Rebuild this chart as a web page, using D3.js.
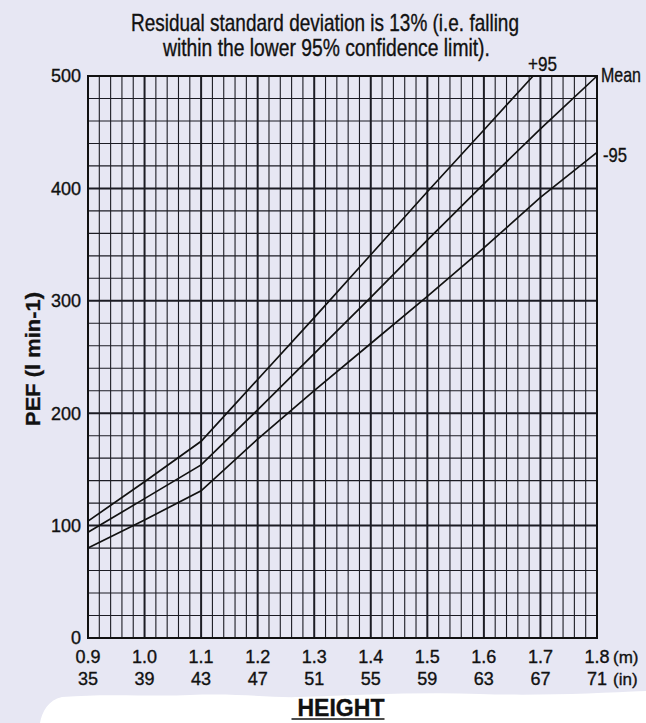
<!DOCTYPE html>
<html lang="en">
<head>
<meta charset="UTF-8">
<script src="https://d3js.org/d3.v7.min.js"></script>
<style>
    body { margin: 0; background: #e7e7f3; }
    svg { display: block; }
    text { font-family: "Liberation Sans", Arial, sans-serif; fill: #111; stroke: #111; stroke-width: 0.35px; }
</style>
</head>
<body>
<div id="chart"></div>
<script>
// data
var heightM = [0.9, 1.0, 1.1, 1.2, 1.3, 1.4, 1.5, 1.6, 1.7, 1.8];
var heightIn = [35, 39, 43, 47, 51, 55, 59, 63, 67, 71];
var pefTicks = [0, 100, 200, 300, 400, 500];

var meanPEF = [94, 124, 154, 203, 253, 303, 354, 404, 453, 500];
var lowerPEF = [80, 105, 131, 177, 220, 262, 304, 347, 392, 432];
var upperHeights = [0.9, 1.0, 1.1, 1.2, 1.3, 1.4, 1.5, 1.6, 1.687];
var upperPEF = [104, 139, 175, 230, 285, 341, 397, 452, 500];

var W = 646, H = 723;
var margin = { top: 76, right: 49, bottom: 85, left: 88 };
var width = W - margin.left - margin.right,
    height = H - margin.top - margin.bottom;

var svg = d3.select("#chart").append("svg")
    .attr("width", W)
    .attr("height", H);

// white patch at the bottom of the scan
svg.append("path")
    .attr("d", "M40,723 C42,712 48,700 62,697 C110,693 150,697 190,695 C240,693 270,698 300,697 C360,695 420,692 480,694 C540,696 600,693 646,691 L646,723 Z")
    .attr("fill", "#ffffff");

var g = svg.append("g")
    .attr("transform", `translate(${margin.left},${margin.top})`);

var x = d3.scaleLinear().domain([0.9, 1.8]).range([0, width]);
var y = d3.scaleLinear().domain([0, 500]).range([height, 0]);

// condensed text: squeeze horizontally to a measured width
function squeeze(sel, tx, ty, len, rot) {
    sel.attr("x", 0).attr("y", 0);
    var k = len / sel.node().getComputedTextLength();
    sel.attr("transform", `translate(${tx},${ty})` + (rot ? ` rotate(${rot})` : "") + ` scale(${k},1)`);
    return sel;
}

// title
squeeze(svg.append("text")
    .style("font-size", "23px")
    .text("Residual standard deviation is 13% (i.e. falling"), 131, 31, 388);
squeeze(svg.append("text")
    .style("font-size", "23px")
    .text("within the lower 95% confidence limit)."), 163, 56, 327);

// grid: minor every 0.02 m and 20 l/min, heavy on the labelled lines
var vLines = d3.range(0, 46);
g.selectAll(".vgrid")
    .data(vLines)
    .enter().append("line")
        .attr("x1", function(i) { return x(0.9 + i * 0.02); })
        .attr("x2", function(i) { return x(0.9 + i * 0.02); })
        .attr("y1", 0).attr("y2", height)
        .attr("stroke", "#1c1c24")
        .attr("stroke-width", function(i) { return i % 5 == 0 ? 2 : 1.1; });

var hLines = d3.range(0, 26);
g.selectAll(".hgrid")
    .data(hLines)
    .enter().append("line")
        .attr("y1", function(i) { return y(i * 20); })
        .attr("y2", function(i) { return y(i * 20); })
        .attr("x1", 0).attr("x2", width)
        .attr("stroke", "#1c1c24")
        .attr("stroke-width", function(i) { return i % 5 == 0 ? 2 : 1.1; });

g.append("rect")
    .attr("width", width).attr("height", height)
    .attr("fill", "none")
    .attr("stroke", "#111")
    .attr("stroke-width", 2);

// y tick labels
g.selectAll(".ylab")
    .data(pefTicks)
    .enter().append("text")
        .attr("x", -7)
        .attr("y", function(d) { return y(d); })
        .attr("dy", "0.36em")
        .attr("text-anchor", "end")
        .style("font-size", "18px")
        .text(function(d) { return d; });

// x tick labels, metres and inches
g.selectAll(".xlabm")
    .data(heightM)
    .enter().append("text")
        .attr("x", function(d) { return x(d); })
        .attr("y", height + 25)
        .attr("text-anchor", "middle")
        .style("font-size", "18px")
        .text(function(d) { return d.toFixed(1); });

g.selectAll(".xlabi")
    .data(heightM)
    .enter().append("text")
        .attr("x", function(d) { return x(d); })
        .attr("y", height + 47)
        .attr("text-anchor", "middle")
        .style("font-size", "18px")
        .text(function(d, i) { return heightIn[i]; });

g.append("text")
    .attr("x", width + 16).attr("y", height + 25)
    .style("font-size", "17px")
    .text("(m)");
g.append("text")
    .attr("x", width + 16).attr("y", height + 47)
    .style("font-size", "17px")
    .text("(in)");

// axis titles
var hx = x(1.35) - 2;
squeeze(g.append("text")
    .style("font-size", "23px")
    .style("font-weight", "bold")
    .text("HEIGHT"), hx - 43, height + 78, 87);
g.append("line")
    .attr("x1", hx - 49).attr("x2", hx + 44)
    .attr("y1", height + 81).attr("y2", height + 81)
    .attr("stroke", "#111").attr("stroke-width", 1.5);

squeeze(svg.append("text")
    .attr("text-anchor", "middle")
    .style("font-size", "21px")
    .style("font-weight", "bold")
    .text("PEF (l min-1)"), 40, margin.top + y(250) + 2, 134, -90);

// centile lines
var line = d3.line()
    .x(function(d) { return x(d[0]); })
    .y(function(d) { return y(d[1]); });

var series = [
    { name: "+95", pts: d3.zip(upperHeights, upperPEF) },
    { name: "Mean", pts: d3.zip(heightM, meanPEF) },
    { name: "-95", pts: d3.zip(heightM, lowerPEF) }
];

g.selectAll(".curve")
    .data(series)
    .enter().append("path")
        .attr("d", function(d) { return line(d.pts); })
        .attr("fill", "none")
        .attr("stroke", "#111")
        .attr("stroke-width", 1.7);

// line labels
var upEnd = series[0].pts[series[0].pts.length - 1];
squeeze(g.append("text")
    .style("font-size", "20px")
    .text("+95"), x(upEnd[0]) - 5, y(upEnd[1]) - 5, 29);

var meanEnd = series[1].pts[series[1].pts.length - 1];
squeeze(g.append("text")
    .style("font-size", "20px")
    .text("Mean"), x(meanEnd[0]) + 4, y(meanEnd[1]) + 6, 40);

var lowEnd = series[2].pts[series[2].pts.length - 1];
squeeze(g.append("text")
    .style("font-size", "20px")
    .text("-95"), x(lowEnd[0]) + 6, y(lowEnd[1]) + 10, 24);
</script>
</body>
</html>
